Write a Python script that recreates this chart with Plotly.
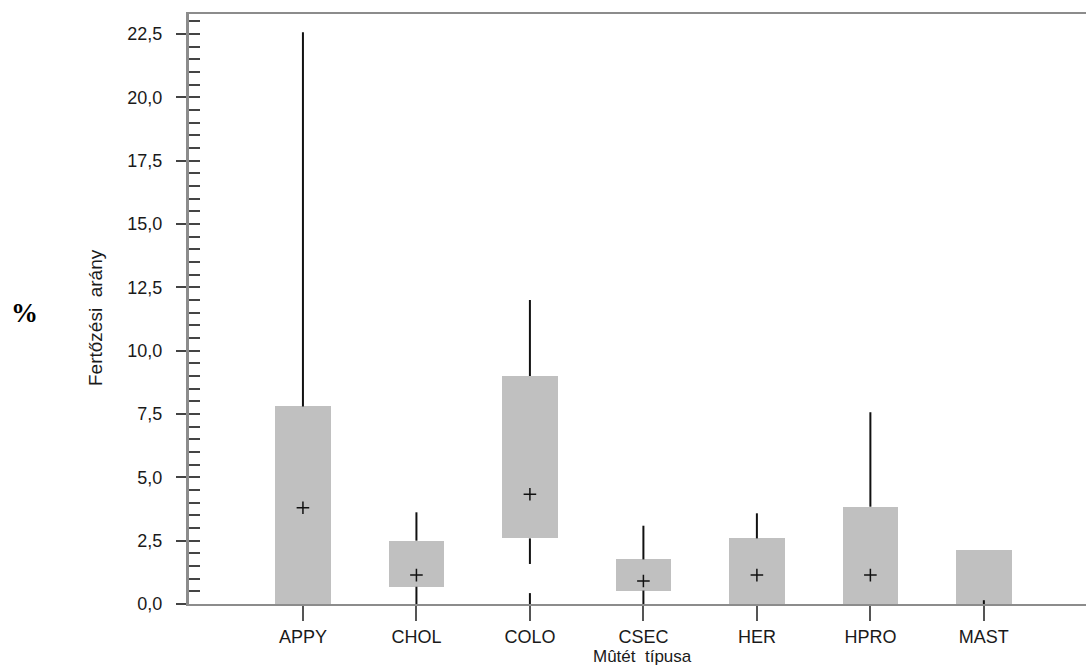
import plotly.graph_objects as go

# ---- data ----
categories = ["APPY", "CHOL", "COLO", "CSEC", "HER", "HPRO", "MAST"]
q1 = [0.0, 0.68, 2.59, 0.53, 0.0, 0.0, 0.0]
q3 = [7.80, 2.50, 9.00, 1.76, 2.59, 3.84, 2.13]
whisker_high = [22.57, 3.62, 12.00, 3.09, 3.58, 7.57, 2.13]
whisker_low = [0.0, 0.0, 1.58, 0.0, 0.0, 0.0, 0.0]
means = [3.80, 1.14, 4.33, 0.91, 1.14, 1.14, None]
low_extreme = [None, None, 0.43, None, None, None, 0.15]
y_ticks = [0, 2.5, 5, 7.5, 10, 12.5, 15, 17.5, 20, 22.5]

# ---- layout constants (pixels) ----
W, H = 1086, 668
ML, MR, MT, MB = 189, 0, 14, 64
PW, PH = W - ML - MR, H - MT - MB


def px_x(p):
    return (p - ML) / PW


def px_y(p):
    return (H - MB - p) / PH


fig = go.Figure()

# boxes
fig.add_trace(go.Bar(
    x=categories,
    y=[b - a for a, b in zip(q1, q3)],
    base=q1,
    width=0.49,
    marker=dict(color="#c0c0c0", line=dict(width=0)),
    showlegend=False,
    hoverinfo="skip",
))

# whiskers
wx, wy = [], []
for c, a, b, lo, hi in zip(categories, q1, q3, whisker_low, whisker_high):
    if hi > b:
        wx += [c, c, None]
        wy += [b, hi, None]
    if lo < a:
        wx += [c, c, None]
        wy += [a, lo, None]
for c, e in zip(categories, low_extreme):
    if e is not None:
        wx += [c, c, None]
        wy += [0, e, None]
fig.add_trace(go.Scatter(
    x=wx, y=wy, mode="lines",
    line=dict(color="#111111", width=2),
    showlegend=False, hoverinfo="skip", cliponaxis=False,
))

# means
fig.add_trace(go.Scatter(
    x=[c for c, m in zip(categories, means) if m is not None],
    y=[m for m in means if m is not None],
    mode="markers",
    marker=dict(symbol="cross-thin", size=9, line=dict(color="#111111", width=1.5)),
    showlegend=False, hoverinfo="skip",
))

tickfont = dict(family="Liberation Sans, Arial, sans-serif", size=18, color="#1a1a1a")

fig.update_layout(
    width=W, height=H,
    margin=dict(l=ML, r=MR, t=MT, b=MB, autoexpand=False),
    paper_bgcolor="white", plot_bgcolor="white",
    separators=",.",
    bargap=0,
    xaxis=dict(
        type="category",
        range=[-1.004, 6.9],
        showline=True, linecolor="#8c8c8c", linewidth=2, mirror=True,
        ticks="outside", ticklen=15, tickwidth=2, tickcolor="#555555",
        tickfont=tickfont, showgrid=False, zeroline=False,
        ticklabelstandoff=0, automargin=False,
    ),
    yaxis=dict(
        range=[0, 23.29],
        tickvals=y_ticks, tickformat=".1f",
        showline=True, linecolor="#8c8c8c", linewidth=3,
        ticks="outside", ticklen=10, tickwidth=2, tickcolor="#444444",
        tickfont=tickfont, showgrid=False, zeroline=False,
        ticklabelstandoff=10, automargin=False,
    ),
    yaxis2=dict(
        overlaying="y", side="left", anchor="x",
        range=[0, 23.29], dtick=0.5, tick0=0,
        ticks="inside", ticklen=11, tickwidth=1.5, tickcolor="#444444",
        showticklabels=False, showgrid=False, zeroline=False, showline=False,
    ),
    annotations=[
        dict(text="<b>%</b>", xref="paper", yref="paper", x=px_x(24), y=px_y(313),
             showarrow=False, font=dict(family="Liberation Serif, Times New Roman, serif",
                                         size=27, color="#000000"),
             xanchor="center", yanchor="middle"),
        dict(text="Fertőzési  arány", xref="paper", yref="paper", x=px_x(95), y=px_y(318),
             textangle=-90, showarrow=False,
             font=dict(family="Liberation Sans, Arial, sans-serif", size=19, color="#1a1a1a"),
             xanchor="center", yanchor="middle"),
        dict(text="Mûtét  típusa", xref="paper", yref="paper", x=px_x(642), y=px_y(656),
             showarrow=False,
             font=dict(family="Liberation Sans, Arial, sans-serif", size=17, color="#1a1a1a"),
             xanchor="center", yanchor="middle"),
    ],
)

# invisible trace to activate yaxis2
fig.add_trace(go.Scatter(x=[categories[0]], y=[0], yaxis="y2", mode="markers",
                         marker=dict(opacity=0), showlegend=False, hoverinfo="skip"))

fig.write_html("out.html",
               config={"displayModeBar": False},
               post_script="document.body.style.margin='0px';document.body.style.overflow='hidden';")
